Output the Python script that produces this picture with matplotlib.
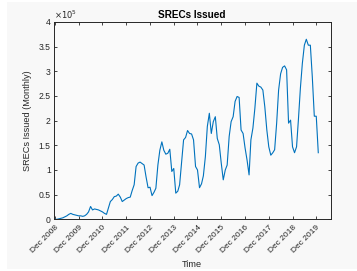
import matplotlib
matplotlib.use("Agg")
import matplotlib.pyplot as plt
import matplotlib.dates as mdates
from matplotlib.patches import Rectangle
import numpy as np
import pandas as pd

# Monthly SRECs issued (units of 1e5), starting Dec 2008
values = [0.00, 0.00, 0.01, 0.02, 0.03, 0.05, 0.07, 0.10, 0.12, 0.10,
          0.09, 0.08, 0.07, 0.07, 0.06, 0.07, 0.10, 0.15, 0.26, 0.19,
          0.21, 0.20, 0.19, 0.17, 0.15, 0.12, 0.10, 0.22, 0.36, 0.40,
          0.46, 0.47, 0.51, 0.45, 0.36, 0.39, 0.42, 0.44, 0.45, 0.58,
          0.70, 1.07, 1.14, 1.16, 1.13, 1.10, 0.86, 0.64, 0.65, 0.48,
          0.55, 0.63, 1.10, 1.40, 1.57, 1.40, 1.32, 1.34, 1.42, 0.97,
          1.03, 0.53, 0.57, 0.70, 1.15, 1.61, 1.66, 1.80, 1.74, 1.73,
          1.61, 1.07, 1.00, 0.64, 0.72, 0.88, 1.27, 1.88, 2.15, 1.74,
          1.98, 2.08, 1.64, 1.51, 1.14, 0.80, 1.00, 1.10, 1.68, 1.98,
          2.08, 2.39, 2.49, 2.47, 1.81, 1.74, 1.45, 1.20, 0.90, 1.61,
          1.85, 2.25, 2.76, 2.70, 2.68, 2.62, 2.28, 1.81, 1.47, 1.30,
          1.35, 1.41, 1.95, 2.62, 2.95, 3.08, 3.11, 3.03, 1.95, 2.01,
          1.47, 1.35, 1.47, 2.01, 2.66, 3.16, 3.53, 3.65, 3.53, 3.53,
          2.89, 2.09, 2.09, 1.35]
values = np.array(values) * 1e5
dates = pd.date_range("2008-12-01", periods=len(values), freq="MS")

tick_years = list(range(2008, 2020))
tick_dates = [pd.Timestamp(f"{y}-12-01") for y in tick_years]
tick_labels = [f"Dec {y}" for y in tick_years]
ytick_vals = [0, 0.5, 1, 1.5, 2, 2.5, 3, 3.5, 4]

plt.rcParams['font.family'] = ['Liberation Sans', 'DejaVu Sans']

fig = plt.figure(figsize=(3.57, 2.71), dpi=100, facecolor='white')
fig.patches.append(Rectangle((7/357, 2/271), 350/357, 267/271, transform=fig.transFigure,
                             facecolor='#f8f8f8', edgecolor='none', zorder=-10))
ax = fig.add_axes([53.5/357, 1-219.3/271, (330.7-53.5)/357, (219.3-22)/271])
ax.set_facecolor('#fafafa')

ax.plot(dates, values, color='#0072BD', lw=0.8)

ax.set_xlim(pd.Timestamp("2008-11-08"), pd.Timestamp("2020-07-10"))
ax.set_ylim(0, 4e5)
ax.set_xticks(tick_dates)
ax.set_xticklabels(tick_labels, rotation=45, ha='right', va='top', rotation_mode='anchor', fontsize=6)
ax.set_yticks([v * 1e5 for v in ytick_vals])
ax.set_yticklabels([f"{v:g}" for v in ytick_vals], fontsize=6.2, color='#262626')
for lab in ax.get_xticklabels():
    lab.set_color('#262626')

ax.tick_params(direction='in', length=2.5, width=0.6, top=True, right=True, pad=2, colors='#262626')
ax.tick_params(axis='x', pad=3.5)
for s in ax.spines.values():
    s.set_color('#262626')
    s.set_linewidth(0.7)

ax.text(0.0, 1.005, r'$\times10^5$', transform=ax.transAxes, fontsize=6, ha='left', va='bottom', color='#262626')
ax.set_title('SRECs Issued', fontsize=7.2, fontweight='bold', pad=3, color='black')
ax.set_ylabel('SRECs Issued (Monthly)', fontsize=6.6, color='#262626', labelpad=5)
ax.set_xlabel('Time', fontsize=6.6, color='#262626', labelpad=3.5)

fig.savefig('out.png', dpi=100, facecolor=fig.get_facecolor())
